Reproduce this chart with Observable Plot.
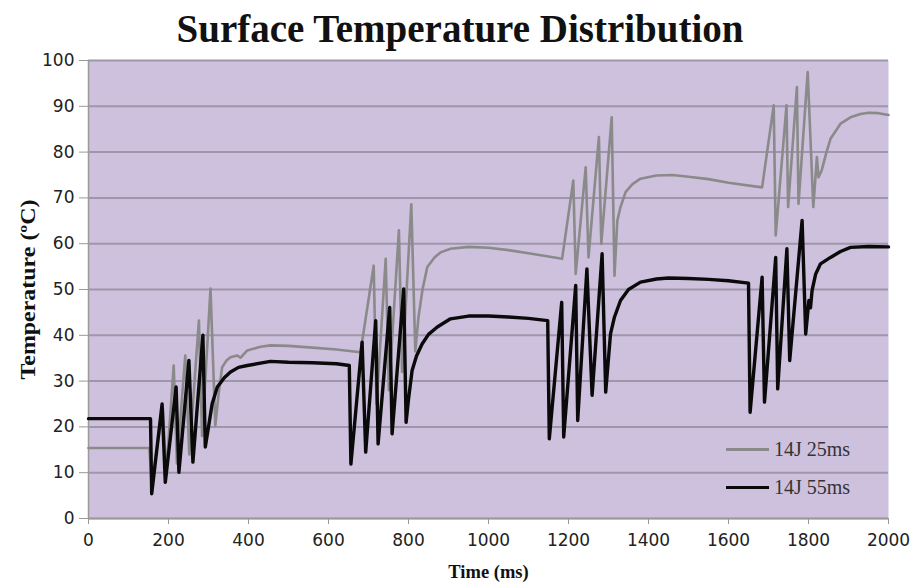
<!DOCTYPE html>
<html><head><meta charset="utf-8">
<script src="https://cdn.jsdelivr.net/npm/d3@7"></script>
<script src="https://cdn.jsdelivr.net/npm/@observablehq/plot@0.6"></script>
<style>
body{margin:0;background:#fff}
#wrap{position:relative;width:913px;height:585px;overflow:hidden}
#title{height:50px;font:bold 39px "Liberation Serif",serif;text-align:center;line-height:57px;padding-left:7px;color:#111;box-sizing:border-box;white-space:nowrap}
#legend{position:absolute;left:726px;top:438px;font:20px "Liberation Serif",serif;color:#333}
.row{display:flex;align-items:center}
.sw{width:43px;margin-right:5px}
</style>
</head><body>
<div id="wrap">
<div id="title">Surface Temperature Distribution</div>
<div id="chart"></div>
<div id="legend">
 <div class="row" style="height:23px"><div class="sw" style="border-top:3px solid #8a8a8a"></div><span>14J 25ms</span></div>
 <div class="row" style="height:52px"><div class="sw" style="border-top:3.5px solid #0a0a0a"></div><span>14J 55ms</span></div>
</div>
</div>
<script>
const seriesNames = ["14J 25ms", "14J 55ms"];
const xTicks = [0,200,400,600,800,1000,1200,1400,1600,1800,2000];
const yTicks = [0,10,20,30,40,50,60,70,80,90,100];

const grayT = [0,152,158,186,194,213,221,242,252,276,284,305,317,325,334,345,355,372,380,397,430,455,500,560,620,680,713,720,743,751,776,784,807,817,825,835,847,865,880,905,950,1000,1050,1100,1150,1184,1212,1218,1243,1250,1276,1282,1308,1315,1322,1330,1343,1360,1380,1420,1460,1500,1550,1600,1684,1713,1718,1745,1749,1771,1775,1798,1812,1821,1825,1833,1845,1855,1880,1905,1930,1950,1975,2000];
const grayV = [15.4,15.4,7.5,24,9.5,33.4,12,35.6,14,43.2,18,50.2,20.3,27,33,34.5,35.2,35.6,35.1,36.7,37.5,37.8,37.7,37.3,36.9,36.3,55.2,25,56.7,28,62.9,32,68.6,36.5,44,50,54.9,57,58.1,58.9,59.3,59.1,58.6,57.9,57.2,56.7,73.8,53.4,76.7,57,83.3,60,87.6,53,65,68,71.3,73,74.2,74.9,75,74.6,74.1,73.3,72.3,90.2,61.8,90.2,68,94.2,68.7,97.5,68,78.9,74.5,76,80,82.9,86.2,87.6,88.3,88.6,88.5,88.1];

const blackT = [0,155,158,184,192,219,226,251,261,286,292,300,309,322,340,355,375,397,455,500,560,620,652,656,684,693,718,724,753,759,788,794,800,809,820,834,850,872,905,950,1000,1050,1100,1148,1152,1183,1188,1218,1223,1246,1259,1284,1293,1305,1315,1330,1350,1380,1420,1450,1500,1550,1600,1650,1654,1684,1690,1718,1723,1746,1753,1784,1793,1801,1805,1809,1818,1830,1855,1880,1905,1950,2000];
const blackV = [21.8,21.8,5.4,25,7.9,28.7,10.1,34.5,12.3,40,15.6,20,25,28.7,30.8,32,33,33.4,34.3,34.1,34,33.8,33.4,11.9,38.5,14.5,43.2,16.3,46.1,18.5,50.1,21,26,32.3,35.5,38.1,40.2,41.8,43.6,44.2,44.2,44,43.7,43.2,17.4,47.2,17.8,50.9,21.4,54.5,26.9,57.8,27.6,40.3,44,47.6,50,51.6,52.3,52.5,52.4,52.2,51.9,51.4,23.2,52.7,25.4,57,28.3,58.9,34.5,65.1,40.3,47.6,46,49.8,53.4,55.6,57,58.3,59.2,59.4,59.3];

const gray = grayT.map((t,i)=>({t, v: grayV[i], s: seriesNames[0]}));
const black = blackT.map((t,i)=>({t, v: blackV[i], s: seriesNames[1]}));

const chart = Plot.plot({
  width: 913, height: 535,
  marginLeft: 88, marginRight: 25, marginTop: 10, marginBottom: 67,
  style: {background: "#fff", fontFamily: "DejaVu Sans", fontSize: "16px", color: "#222"},
  x: {domain: [0, 2000], label: null},
  y: {domain: [0, 100], label: null},
  marks: [
    Plot.frame({fill: "#cdc1dd", stroke: null}),
    Plot.gridY(yTicks, {stroke: "#9e96aa", strokeOpacity: 1, strokeWidth: 2}),
    Plot.ruleX([0], {stroke: "#9a9a9a", strokeWidth: 1.5}),
    Plot.ruleY([0], {stroke: "#9a9a9a", strokeWidth: 1.5}),
    Plot.axisY(yTicks, {tickSize: 9, tickPadding: 5, stroke: "#999", fill: "#222", fontSize: 17, label: null, tickFormat: d => String(d)}),
    Plot.axisX(xTicks, {tickSize: 6, tickPadding: 9, stroke: "#999", fill: "#222", fontSize: 17, label: null, tickFormat: d => String(d)}),
    Plot.axisY([], {label: "Temperature (ºC)", labelAnchor: "center", labelArrow: "none", labelOffset: 68, fontFamily: "Liberation Serif", fontWeight: "bold", fontSize: 21, fill: "#111"}),
    Plot.axisX([], {label: "Time (ms)", labelAnchor: "center", labelArrow: "none", labelOffset: 59, fontFamily: "Liberation Serif", fontWeight: "bold", fontSize: 18.5, fill: "#111"}),
    Plot.line(gray, {x: "t", y: "v", stroke: "#8a8a8a", strokeWidth: 2.6}),
    Plot.line(black, {x: "t", y: "v", stroke: "#0a0a0a", strokeWidth: 3.4})
  ]
});
document.getElementById("chart").appendChild(chart);
// stretch the y-axis title to the reference's length
chart.querySelectorAll("text").forEach(t => {
  if (t.textContent === "Temperature (ºC)") {
    t.setAttribute("textLength", "180");
    t.setAttribute("lengthAdjust", "spacingAndGlyphs");
  }
});
</script>
</body></html>
